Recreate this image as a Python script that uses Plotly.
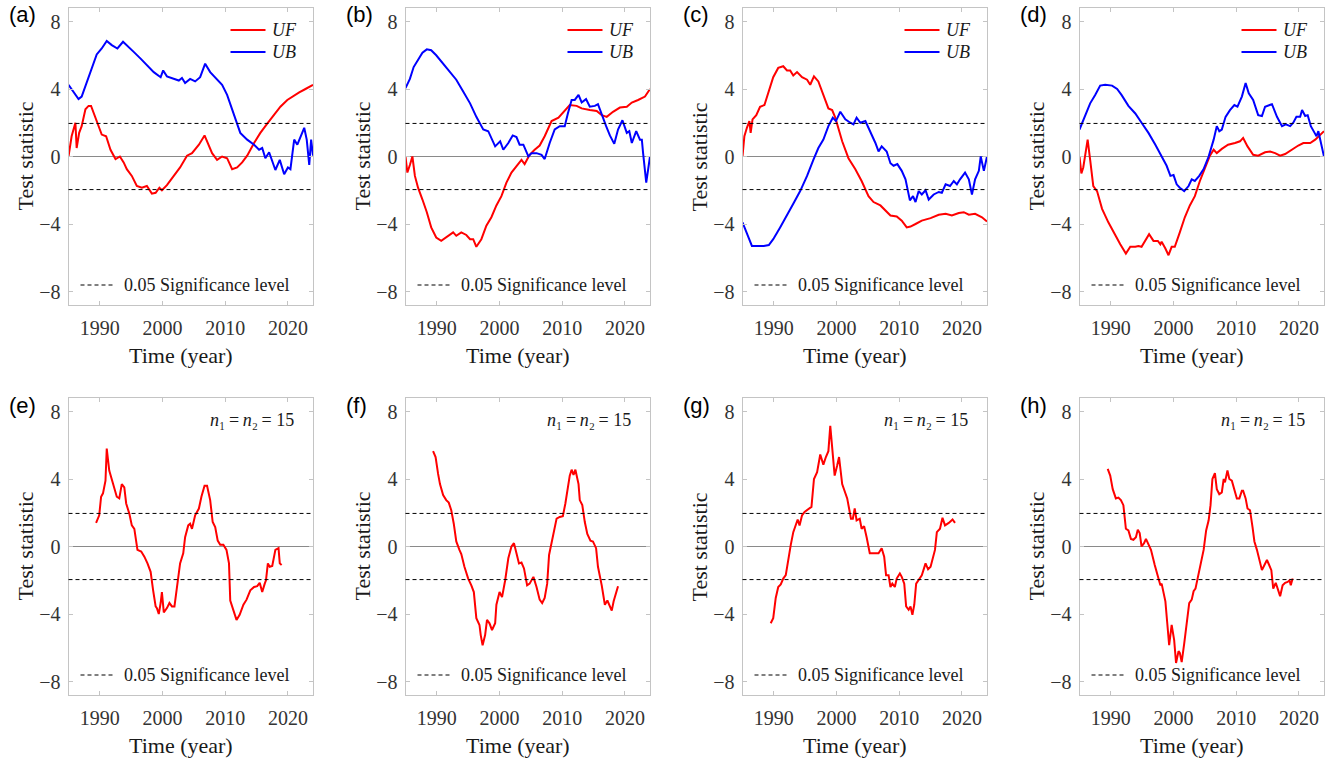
import plotly.graph_objects as go

W, H = 1338, 762
X_RANGE = [1985, 2024]
Y_RANGE = [-8.8, 8.8]
SIG = 1.96
X_TICKS = [1990, 2000, 2010, 2020]
Y_TICKS = [-8, -4, 0, 4, 8]
Y_TICKTEXT = ["\u22128", "\u22124", "0", "4", "8"]

PANEL_LABELS = ["(a)", "(b)", "(c)", "(d)", "(e)", "(f)", "(g)", "(h)"]

# ---------------- data (year, statistic) ----------------
a_uf = [(1985.0, 0.0), (1985.5, 1.2), (1986.1, 2.0), (1986.3, 0.5), (1986.7, 1.4), (1987.1, 1.8), (1987.7, 2.8),
        (1988.2, 3.0), (1988.6, 3.0), (1989.3, 2.3), (1989.8, 1.8), (1990.3, 1.3), (1991.0, 1.2), (1991.7, 0.4),
        (1992.5, -0.15), (1993.2, 0.0), (1993.8, -0.35), (1994.3, -0.75), (1995.1, -1.15), (1995.9, -1.75),
        (1996.7, -1.85), (1997.5, -1.75), (1998.3, -2.2), (1998.9, -2.15), (1999.5, -1.85), (1999.9, -2.0),
        (2000.7, -1.7), (2001.8, -1.15), (2002.8, -0.65), (2003.9, 0.05), (2004.7, 0.2), (2005.8, 0.7),
        (2006.7, 1.25), (2007.9, 0.2), (2008.7, -0.2), (2009.5, 0.0), (2010.3, -0.1), (2011.1, -0.75),
        (2011.9, -0.65), (2012.7, -0.35), (2013.5, 0.05), (2014.6, 0.8), (2015.6, 1.4), (2016.7, 1.95),
        (2017.8, 2.45), (2018.8, 2.95), (2019.9, 3.35), (2020.7, 3.55), (2021.8, 3.8), (2022.8, 4.0), (2024.0, 4.25)]
a_ub = [(1985.0, 4.25), (1985.8, 3.85), (1986.6, 3.4), (1987.1, 3.55), (1987.9, 4.4), (1988.7, 5.3), (1989.5, 6.05),
        (1990.3, 6.4), (1991.1, 6.85), (1991.9, 6.6), (1992.8, 6.4), (1993.7, 6.8), (1994.6, 6.5), (1995.4, 6.2),
        (1996.5, 5.8), (1997.5, 5.4), (1998.6, 5.0), (1999.7, 4.7), (2000.1, 5.1), (2000.7, 4.75), (2001.8, 4.6),
        (2002.6, 4.5), (2003.1, 4.65), (2003.6, 4.35), (2004.4, 4.6), (2005.2, 4.45), (2006.0, 4.7), (2006.8, 5.5),
        (2007.6, 5.0), (2008.7, 4.55), (2009.5, 4.25), (2010.3, 3.65), (2011.4, 2.45), (2012.4, 1.4), (2013.5, 1.0),
        (2014.6, 0.7), (2015.4, 0.4), (2015.9, 0.5), (2016.4, -0.1), (2017.0, 0.25), (2018.0, -0.8), (2018.7, -0.2),
        (2019.4, -1.05), (2020.0, -0.65), (2020.4, -0.75), (2021.0, 1.0), (2021.5, 0.7), (2022.0, 1.2),
        (2022.6, 1.7), (2023.0, 1.0), (2023.4, -0.5), (2023.7, 1.0), (2024.0, 0.05)]

b_uf = [(1985.0, 0.0), (1985.3, -0.95), (1985.7, -0.5), (1986.1, 0.0), (1986.5, -1.15), (1987.0, -1.85),
        (1987.7, -2.55), (1988.4, -3.3), (1989.1, -4.2), (1989.9, -4.8), (1990.7, -5.0), (1991.8, -4.7),
        (1992.6, -4.5), (1993.1, -4.7), (1993.9, -4.5), (1994.7, -4.65), (1995.3, -4.9), (1995.8, -4.9),
        (1996.3, -5.35), (1997.1, -4.9), (1997.9, -4.1), (1998.7, -3.6), (1999.5, -2.9), (2000.3, -2.35),
        (2001.1, -1.55), (2001.9, -0.95), (2002.7, -0.55), (2003.5, -0.2), (2004.0, -0.45), (2004.8, 0.1),
        (2005.6, 0.4), (2006.4, 0.65), (2007.2, 1.2), (2008.3, 2.1), (2009.4, 2.3), (2010.4, 2.75), (2011.2, 3.05),
        (2012.3, 3.0), (2013.1, 2.85), (2014.4, 2.75), (2015.5, 2.7), (2016.3, 2.45), (2017.1, 2.35),
        (2018.1, 2.65), (2019.2, 2.9), (2020.3, 2.95), (2021.1, 3.2), (2022.1, 3.35), (2023.2, 3.55), (2024.0, 4.0)]
b_ub = [(1985.0, 4.05), (1985.7, 4.6), (1986.3, 5.3), (1987.0, 5.75), (1987.7, 6.15), (1988.4, 6.35), (1989.1, 6.3),
        (1989.9, 6.0), (1991.0, 5.5), (1992.1, 5.0), (1993.1, 4.55), (1994.2, 3.85), (1995.3, 3.15), (1996.3, 2.35),
        (1997.4, 1.6), (1998.2, 1.5), (1998.7, 1.1), (1999.3, 0.6), (2000.1, 0.9), (2000.6, 0.4), (2001.4, 0.8),
        (2002.1, 1.25), (2002.7, 1.15), (2003.2, 0.7), (2003.8, 0.7), (2004.6, 0.0), (2005.1, 0.2), (2005.9, 0.2),
        (2006.7, 0.1), (2007.2, -0.15), (2008.0, 0.8), (2008.8, 1.6), (2009.6, 1.8), (2010.4, 1.8), (2010.9, 2.55),
        (2011.5, 3.35), (2012.0, 3.35), (2012.6, 3.65), (2013.1, 3.2), (2013.8, 3.4), (2014.4, 2.95), (2015.2, 3.0),
        (2015.7, 3.1), (2016.3, 2.45), (2017.0, 1.8), (2017.6, 1.25), (2018.3, 0.75), (2018.9, 1.6), (2019.6, 2.15),
        (2020.3, 1.4), (2020.7, 1.5), (2021.1, 0.8), (2021.8, 1.5), (2022.4, 1.0), (2022.7, 1.0), (2022.9, 0.2),
        (2023.4, -1.55), (2024.0, 0.0)]

c_uf = [(1985.0, 0.0), (1985.3, 1.2), (1985.7, 1.7), (1986.1, 2.1), (1986.3, 1.4), (1986.6, 2.2), (1987.2, 2.45),
        (1987.8, 2.95), (1988.5, 3.05), (1989.2, 3.95), (1989.9, 4.7), (1990.7, 5.25), (1991.5, 5.35), (1992.1, 5.1),
        (1992.6, 5.1), (1993.1, 4.8), (1993.7, 5.0), (1994.5, 4.7), (1995.3, 4.55), (1995.8, 4.25), (1996.4, 4.75),
        (1997.1, 4.45), (1997.9, 3.65), (1998.7, 2.85), (1999.3, 2.75), (1999.8, 2.3), (2000.9, 0.9), (2001.9, -0.1),
        (2003.0, -0.75), (2004.0, -1.45), (2005.1, -2.35), (2005.9, -2.7), (2007.0, -2.9), (2007.8, -3.2),
        (2008.6, -3.5), (2009.6, -3.55), (2010.4, -3.8), (2011.2, -4.2), (2011.8, -4.15), (2012.6, -4.0),
        (2013.6, -3.8), (2015.0, -3.65), (2016.3, -3.45), (2017.4, -3.4), (2018.4, -3.5), (2019.5, -3.35),
        (2020.3, -3.3), (2021.1, -3.45), (2022.1, -3.4), (2023.2, -3.6), (2024.0, -3.85)]
c_ub = [(1985.0, -3.9), (1985.7, -4.6), (1986.5, -5.3), (1987.3, -5.3), (1988.4, -5.3), (1989.2, -5.25),
        (1989.9, -4.9), (1991.0, -4.2), (1992.1, -3.5), (1993.1, -2.8), (1994.2, -2.05), (1995.3, -1.15),
        (1996.3, -0.2), (1997.1, 0.5), (1997.9, 1.0), (1998.7, 1.8), (1999.4, 2.3), (1999.9, 2.1), (2000.6, 2.65),
        (2001.4, 2.2), (2002.2, 2.0), (2002.7, 1.9), (2003.2, 2.3), (2003.8, 2.0), (2004.6, 2.1), (2005.4, 1.5),
        (2006.2, 0.8), (2006.7, 0.3), (2007.2, 0.6), (2008.0, 0.3), (2008.6, -0.4), (2009.1, -0.55), (2009.7, -0.45),
        (2010.4, -0.85), (2011.0, -1.35), (2011.7, -2.6), (2012.2, -2.35), (2012.6, -2.7), (2013.1, -2.05),
        (2013.6, -2.25), (2014.2, -2.0), (2014.7, -2.55), (2015.5, -2.25), (2016.3, -2.1), (2016.8, -2.15),
        (2017.4, -1.65), (2018.1, -1.75), (2018.7, -1.45), (2019.2, -1.65), (2019.7, -1.35), (2020.5, -0.95),
        (2021.1, -1.35), (2021.6, -2.25), (2022.1, -1.35), (2022.7, -0.85), (2023.0, 0.0), (2023.5, -0.85),
        (2024.0, 0.0)]

d_uf = [(1985.0, 0.0), (1985.3, -1.0), (1985.6, -0.65), (1986.3, 1.0), (1986.7, -0.2), (1987.2, -1.75),
        (1987.8, -2.05), (1988.6, -3.1), (1989.6, -3.9), (1990.7, -4.7), (1991.5, -5.2), (1992.4, -5.75),
        (1993.1, -5.35), (1993.9, -5.35), (1994.4, -5.3), (1994.9, -5.35), (1995.7, -4.9), (1996.1, -4.6),
        (1996.8, -5.0), (1997.5, -5.0), (1997.9, -5.2), (1998.1, -5.05), (1998.7, -5.45), (1999.2, -5.85),
        (1999.7, -5.35), (2000.2, -5.35), (2001.0, -4.5), (2001.8, -3.6), (2002.6, -2.9), (2003.4, -2.35),
        (2004.2, -1.45), (2005.0, -0.65), (2005.8, 0.05), (2006.4, 0.4), (2006.9, 0.2), (2007.7, 0.45),
        (2008.7, 0.7), (2009.8, 0.8), (2010.6, 0.9), (2011.1, 1.1), (2011.8, 0.6), (2012.7, 0.1), (2013.5, 0.05),
        (2014.6, 0.25), (2015.4, 0.3), (2016.2, 0.2), (2017.0, 0.05), (2017.8, 0.15), (2018.8, 0.4), (2019.9, 0.65),
        (2020.7, 0.8), (2021.8, 0.8), (2022.6, 1.0), (2023.4, 1.3), (2024.0, 1.5)]
d_ub = [(1985.0, 1.6), (1985.8, 2.35), (1986.7, 3.15), (1987.5, 3.65), (1988.3, 4.2), (1989.1, 4.25), (1990.2, 4.2),
        (1991.0, 4.0), (1991.7, 3.65), (1992.8, 3.0), (1993.9, 2.55), (1994.9, 2.0), (1996.0, 1.4), (1997.1, 0.7),
        (1998.1, 0.0), (1998.9, -0.55), (1999.5, -1.15), (2000.0, -1.1), (2000.5, -1.65), (2001.0, -1.85),
        (2001.7, -2.05), (2002.4, -1.75), (2002.9, -1.35), (2003.4, -1.45), (2004.1, -1.15), (2004.8, -0.75),
        (2005.6, 0.0), (2006.4, 1.0), (2006.9, 1.8), (2007.3, 1.5), (2007.7, 1.6), (2008.3, 2.35), (2009.0, 2.75),
        (2009.7, 3.05), (2010.2, 2.95), (2010.9, 3.55), (2011.5, 4.35), (2012.0, 3.75), (2012.7, 3.35),
        (2013.5, 2.45), (2014.1, 2.4), (2014.6, 2.95), (2015.7, 3.1), (2016.5, 2.35), (2017.3, 1.8), (2017.9, 1.9),
        (2018.6, 1.8), (2019.1, 2.0), (2019.6, 2.35), (2020.2, 2.35), (2020.5, 2.75), (2021.0, 2.4), (2021.4, 2.45),
        (2021.9, 1.8), (2022.5, 1.4), (2022.8, 1.2), (2023.1, 1.5), (2023.4, 1.0), (2024.0, 0.0)]

e_t = [(1989.4, 1.4), (1989.9, 1.85), (1990.2, 2.95), (1990.5, 3.15), (1990.9, 3.9), (1991.1, 5.8), (1991.5, 4.5),
       (1991.9, 4.0), (1992.3, 3.35), (1992.7, 2.95), (1993.1, 2.85), (1993.5, 3.7), (1993.9, 3.5), (1994.2, 2.55),
       (1994.7, 1.95), (1995.1, 1.25), (1995.5, 1.05), (1996.0, -0.2), (1996.6, -0.3), (1997.1, -0.6),
       (1997.6, -1.0), (1998.1, -1.5), (1998.5, -2.6), (1998.9, -3.55), (1999.1, -3.65), (1999.4, -4.0),
       (1999.7, -3.35), (1999.9, -2.7), (2000.2, -3.9), (2000.7, -3.65), (2001.1, -3.35), (2001.5, -3.55),
       (2001.9, -3.55), (2002.3, -2.4), (2002.8, -1.0), (2003.3, -0.4), (2003.6, 0.55), (2004.1, 1.25),
       (2004.4, 1.35), (2004.7, 1.05), (2005.2, 1.85), (2005.8, 2.25), (2006.2, 2.95), (2006.7, 3.6), (2007.1, 3.6),
       (2007.6, 2.75), (2008.0, 1.45), (2008.4, 1.15), (2008.8, 0.35), (2009.2, 0.1), (2009.7, 0.1), (2010.2, -0.2),
       (2010.6, -1.0), (2010.8, -3.2), (2011.3, -3.85), (2011.8, -4.35), (2012.3, -4.05), (2012.9, -3.45),
       (2013.4, -3.15), (2014.0, -2.6), (2014.6, -2.4), (2015.1, -2.35), (2015.5, -2.15), (2015.9, -2.7),
       (2016.3, -2.2), (2016.5, -2.0), (2016.8, -1.0), (2017.1, -1.2), (2017.5, -1.15), (2018.0, -0.2),
       (2018.5, -0.1), (2018.7, -1.0), (2019.0, -1.1)]

f_t = [(1989.4, 5.65), (1989.8, 5.3), (1990.2, 4.3), (1990.5, 3.7), (1991.0, 3.05), (1991.5, 2.75), (1991.9, 2.6),
       (1992.3, 2.15), (1992.7, 1.35), (1993.1, 0.3), (1993.6, -0.2), (1993.9, -0.45), (1994.4, -1.2), (1995.0, -1.9),
       (1995.5, -2.3), (1995.9, -2.7), (1996.3, -4.25), (1996.8, -4.65), (1997.0, -5.25), (1997.3, -5.85),
       (1997.7, -5.25), (1998.0, -4.35), (1998.4, -4.55), (1998.8, -4.95), (1999.3, -4.55), (1999.5, -3.45),
       (2000.0, -2.7), (2000.4, -3.0), (2000.9, -2.0), (2001.4, -0.7), (2001.9, 0.0), (2002.3, 0.2), (2002.7, -0.4),
       (2003.1, -1.0), (2003.5, -0.95), (2003.9, -1.3), (2004.4, -2.3), (2004.8, -2.2), (2005.4, -1.8),
       (2005.9, -2.4), (2006.4, -3.15), (2006.8, -3.35), (2007.2, -3.05), (2007.6, -2.2), (2007.9, -0.5),
       (2008.3, 0.2), (2008.7, 0.95), (2009.1, 1.65), (2009.6, 1.75), (2010.1, 1.8), (2010.5, 2.55), (2010.9, 3.6),
       (2011.2, 4.2), (2011.5, 4.55), (2011.8, 4.25), (2012.1, 4.55), (2012.6, 3.7), (2012.8, 2.75), (2013.2, 2.45),
       (2013.6, 1.45), (2014.0, 0.75), (2014.5, 0.35), (2014.9, 0.3), (2015.4, -0.1), (2015.7, -1.2), (2016.3, -2.3),
       (2016.8, -3.45), (2017.2, -3.2), (2017.5, -3.5), (2017.9, -3.8), (2018.2, -3.25), (2018.6, -2.7),
       (2018.9, -2.35)]

g_t = [(1989.5, -4.55), (1989.9, -4.25), (1990.3, -3.05), (1990.7, -2.4), (1991.1, -2.25), (1991.5, -1.9),
       (1991.9, -1.7), (1992.3, -0.7), (1992.7, 0.1), (1993.1, 0.85), (1993.6, 1.35), (1993.8, 1.6), (1994.1, 1.25),
       (1994.5, 1.85), (1994.9, 2.05), (1995.5, 2.2), (1996.0, 2.35), (1996.4, 4.0), (1996.9, 4.4), (1997.4, 5.45),
       (1997.9, 4.85), (1998.3, 5.3), (1998.7, 5.65), (1999.0, 7.15), (1999.3, 6.0), (1999.7, 4.2), (2000.1, 4.8),
       (2000.4, 5.3), (2000.9, 3.7), (2001.3, 3.25), (2001.7, 2.85), (2002.0, 2.25), (2002.3, 1.65), (2002.6, 1.65),
       (2002.9, 2.25), (2003.2, 1.55), (2003.7, 1.65), (2004.0, 1.05), (2004.4, 1.2), (2004.8, 0.55), (2005.3, -0.4),
       (2005.9, -0.4), (2006.7, -0.4), (2007.2, -0.1), (2007.6, -0.6), (2007.9, -1.7), (2008.3, -1.7),
       (2008.6, -2.4), (2008.9, -2.2), (2009.3, -2.4), (2009.6, -1.9), (2010.1, -1.6), (2010.4, -1.8),
       (2010.8, -2.2), (2011.1, -3.55), (2011.5, -3.75), (2011.8, -3.55), (2012.1, -4.05), (2012.4, -3.45),
       (2012.7, -2.2), (2013.1, -2.0), (2013.6, -1.7), (2014.2, -1.0), (2014.6, -1.35), (2015.0, -1.2),
       (2015.4, -0.7), (2015.7, -0.2), (2016.0, 0.85), (2016.5, 1.05), (2016.9, 1.7), (2017.3, 1.25), (2017.9, 1.4),
       (2018.5, 1.6), (2018.9, 1.4)]

h_t = [(1989.5, 4.6), (1989.9, 4.2), (1990.3, 3.4), (1990.8, 2.85), (1991.2, 2.9), (1991.6, 2.75), (1992.0, 2.45),
       (1992.4, 1.05), (1992.8, 0.95), (1993.2, 0.45), (1993.6, 0.4), (1994.0, 0.55), (1994.3, 1.0), (1994.6, 0.8),
       (1994.9, 0.0), (1995.3, 0.2), (1995.6, 0.45), (1996.0, 0.1), (1996.4, -0.2), (1997.0, -1.1), (1997.4, -1.7),
       (1997.9, -2.3), (1998.1, -2.2), (1998.7, -3.25), (1999.0, -4.55), (1999.3, -5.85), (1999.7, -4.65),
       (2000.1, -5.55), (2000.4, -6.9), (2000.8, -6.2), (2001.0, -6.3), (2001.3, -6.85), (2001.7, -5.75),
       (2002.1, -4.35), (2002.5, -3.35), (2002.9, -3.15), (2003.2, -2.65), (2003.5, -2.5), (2003.9, -1.8),
       (2004.4, -1.1), (2004.8, -0.2), (2005.2, 0.95), (2005.6, 1.55), (2005.9, 2.45), (2006.2, 4.0), (2006.6, 4.35),
       (2006.9, 3.4), (2007.3, 3.1), (2007.7, 3.2), (2008.0, 4.0), (2008.2, 3.8), (2008.6, 4.5), (2008.9, 4.0),
       (2009.3, 3.9), (2009.7, 3.4), (2010.1, 2.85), (2010.5, 2.85), (2010.9, 3.3), (2011.1, 3.3), (2011.5, 2.85),
       (2011.8, 2.25), (2012.2, 2.15), (2012.6, 1.15), (2012.9, 0.3), (2013.3, -0.2), (2013.7, -0.8), (2014.1, -1.4),
       (2014.5, -1.1), (2014.9, -0.8), (2015.2, -1.05), (2015.6, -1.4), (2015.9, -2.5), (2016.3, -2.15),
       (2016.7, -2.6), (2017.0, -2.95), (2017.4, -2.3), (2017.8, -2.15), (2018.2, -2.1), (2018.5, -2.0),
       (2018.7, -2.3), (2019.0, -1.9)]

TOP_SERIES = [(a_uf, a_ub), (b_uf, b_ub), (c_uf, c_ub), (d_uf, d_ub)]
BOTTOM_SERIES = [e_t, f_t, g_t, h_t]

# ---------------- styling ----------------
RED = "#ff0000"
BLUE = "#0000ff"
FRAME = "#c4c4c4"
SERIF = "Liberation Serif"
SANS = "Liberation Sans"
TICK_SIZE = 20
TITLE_FONT = dict(family=SERIF, size=22, color="#1a1a1a")
LEG_FONT = dict(family=SERIF, size=18, color="#1a1a1a")
LABEL_FONT = dict(family=SANS, size=22, color="#000000")


def ital(s, size=18):
    return '<span style="font-style:italic;font-size:%dpx">%s</span>' % (size, s)


N_TEXT = ital("n") + "\u2081\u2009=\u2009" + ital("n") + "\u2082\u2009= 15"

COL_LEFT = [68.5, 405.5, 742.5, 1079.5]
PW = 244.5
ROW_TOP = [8, 398]
PH = 297

fig = go.Figure()
shapes = []
annotations = []


def px_x(p):
    return p / W


def px_y(p):
    return 1 - p / H


for i in range(8):
    r, c = divmod(i, 4)
    n = i + 1
    sfx = "" if n == 1 else str(n)
    left = COL_LEFT[c]
    top = ROW_TOP[r]
    fig.update_layout({
        "xaxis" + sfx: dict(
            domain=[px_x(left), px_x(left + PW)], anchor="y" + sfx, range=X_RANGE,
            tickmode="array", tickvals=X_TICKS, ticks="inside", ticklen=4, tickcolor=FRAME, showline=True,
            linecolor=FRAME, linewidth=1, mirror="ticks", showgrid=False, zeroline=False,
            tickfont_family=SERIF, tickfont_size=TICK_SIZE, tickfont_color="#333333",
            ticklabelstandoff=5, fixedrange=True),
        "yaxis" + sfx: dict(
            domain=[px_y(top + PH), px_y(top)], anchor="x" + sfx, range=Y_RANGE,
            tickmode="array", tickvals=Y_TICKS, ticktext=Y_TICKTEXT, ticks="inside", ticklen=4,
            tickcolor=FRAME, showline=True, linecolor=FRAME, linewidth=1, mirror="ticks", showgrid=False,
            zeroline=True, zerolinecolor="#8a8a8a", zerolinewidth=1,
            tickfont_family=SERIF, tickfont_size=TICK_SIZE, tickfont_color="#333333",
            ticklabelstandoff=3, fixedrange=True),
    })

    xref = "x" + sfx
    yref = "y" + sfx
    # significance lines
    for lv in (SIG, -SIG):
        shapes.append(dict(type="line", xref=xref + " domain", yref=yref, x0=0, x1=1, y0=lv, y1=lv,
                           line=dict(color="#000000", width=1, dash="4px,3px"), layer="above"))

    if r == 0:
        uf, ub = TOP_SERIES[c]
        fig.add_trace(go.Scatter(x=[p[0] for p in uf], y=[p[1] for p in uf], mode="lines",
                                 line=dict(color=RED, width=2), name="UF", showlegend=False,
                                 xaxis=xref, yaxis=yref))
        fig.add_trace(go.Scatter(x=[p[0] for p in ub], y=[p[1] for p in ub], mode="lines",
                                 line=dict(color=BLUE, width=2), name="UB", showlegend=False,
                                 xaxis=xref, yaxis=yref))
        # legend samples
        for k, (col, txt) in enumerate([(RED, "UF"), (BLUE, "UB")]):
            yy = top + 22 + 22 * k
            shapes.append(dict(type="line", xref="paper", yref="paper",
                               x0=px_x(left + 162), x1=px_x(left + 197), y0=px_y(yy), y1=px_y(yy),
                               line=dict(color=col, width=2)))
            annotations.append(dict(xref="paper", yref="paper", x=px_x(left + 201), y=px_y(yy),
                                    xanchor="left", yanchor="middle", text=txt, showarrow=False,
                                    font=dict(LEG_FONT, style="italic")))
    else:
        t = BOTTOM_SERIES[c]
        fig.add_trace(go.Scatter(x=[p[0] for p in t], y=[p[1] for p in t], mode="lines",
                                 line=dict(color=RED, width=2), name="t", showlegend=False,
                                 xaxis=xref, yaxis=yref))
        annotations.append(dict(xref="paper", yref="paper", x=px_x(left + PW - 17), y=px_y(top + 22),
                                xanchor="right", yanchor="middle", showarrow=False, font=LEG_FONT,
                                text=N_TEXT))

    # significance legend
    yy = top + 277
    shapes.append(dict(type="line", xref="paper", yref="paper",
                       x0=px_x(left + 12), x1=px_x(left + 47), y0=px_y(yy), y1=px_y(yy),
                       line=dict(color="#000000", width=1, dash="4px,3px")))
    annotations.append(dict(xref="paper", yref="paper", x=px_x(left + 53), y=px_y(yy),
                            xanchor="left", yanchor="middle", text="0.05 Significance level",
                            showarrow=False, font=LEG_FONT))

    # axis titles
    annotations.append(dict(xref="paper", yref="paper", x=px_x(left - 43.5), y=px_y(top + PH / 2),
                            xanchor="center", yanchor="middle", text="Test statistic", textangle=-90,
                            showarrow=False, font=TITLE_FONT))
    annotations.append(dict(xref="paper", yref="paper", x=px_x(left + PW / 2 - 10), y=px_y(top + 347),
                            xanchor="center", yanchor="middle", text="Time (year)",
                            showarrow=False, font=TITLE_FONT))
    # panel label
    annotations.append(dict(xref="paper", yref="paper", x=px_x(left - 62), y=px_y(top + 7),
                            xanchor="left", yanchor="middle", text=PANEL_LABELS[i],
                            showarrow=False, font=LABEL_FONT))

fig.update_layout(width=W, height=H, margin=dict(l=0, r=0, t=0, b=0),
                  paper_bgcolor="white", plot_bgcolor="white",
                  shapes=shapes, annotations=annotations, showlegend=False)

fig.write_html("out.html")
